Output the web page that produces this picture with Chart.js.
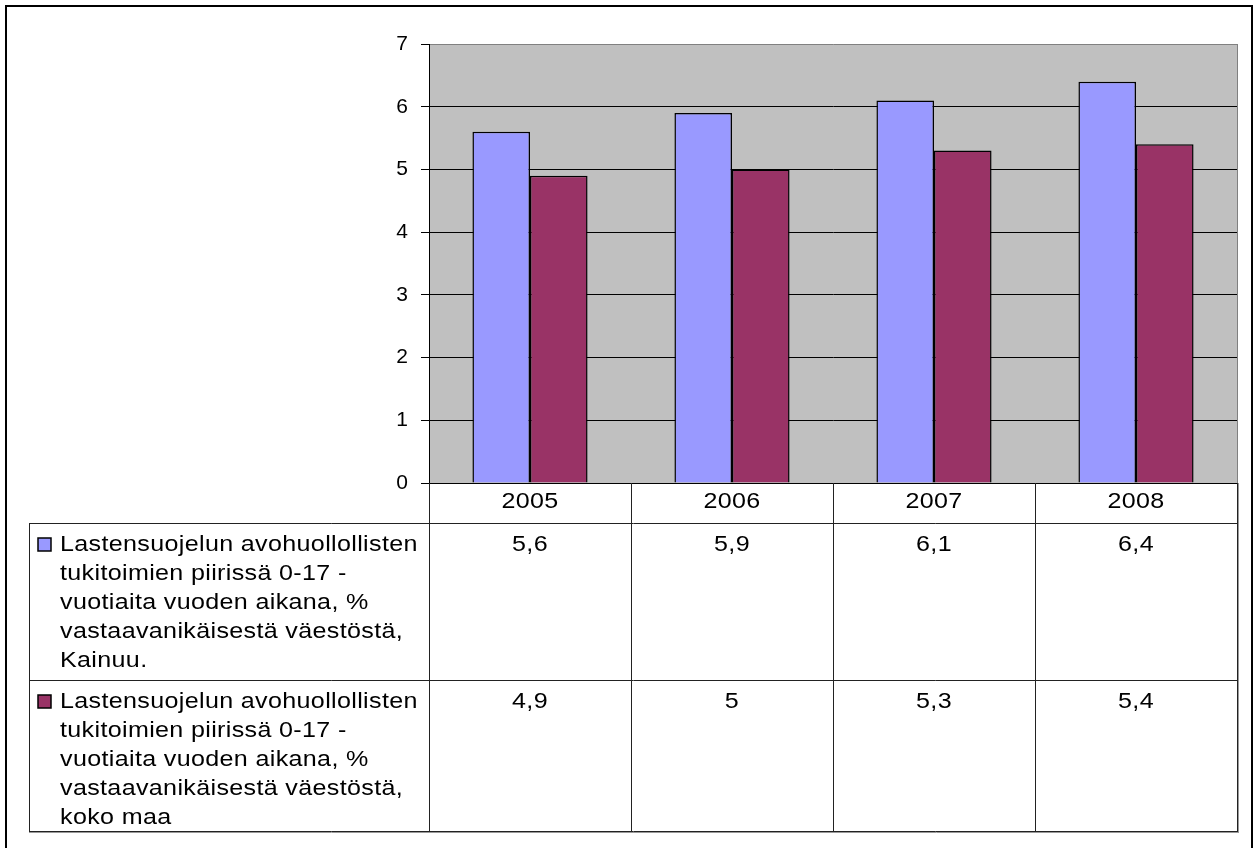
<!DOCTYPE html>
<html>
<head>
<meta charset="utf-8">
<script src="https://cdn.jsdelivr.net/npm/chart.js@4.4.1/dist/chart.umd.min.js"></script>
<style>
  html, body { margin: 0; padding: 0; background: #fff; }
  #c { display: block; }
</style>
</head>
<body>
<canvas id="c" width="1256" height="848"></canvas>
<script>
// ---- data ----
const categories = ['2005', '2006', '2007', '2008'];
const kainuuValues = [5.6, 5.9, 6.1, 6.4];
const kokoMaaValues = [4.9, 5.0, 5.3, 5.4];
const kainuuLabel = 'Lastensuojelun avohuollollisten tukitoimien piirissä 0-17 - vuotiaita vuoden aikana, % vastaavanikäisestä väestöstä, Kainuu.';
const kokoMaaLabel = 'Lastensuojelun avohuollollisten tukitoimien piirissä 0-17 - vuotiaita vuoden aikana, % vastaavanikäisestä väestöstä, koko maa';
const kainuuLabelLines = ['Lastensuojelun avohuollollisten', 'tukitoimien piirissä 0-17 -', 'vuotiaita vuoden aikana, %', 'vastaavanikäisestä väestöstä,', 'Kainuu.'];
const kokoMaaLabelLines = ['Lastensuojelun avohuollollisten', 'tukitoimien piirissä 0-17 -', 'vuotiaita vuoden aikana, %', 'vastaavanikäisestä väestöstä,', 'koko maa'];
const yMin = 0, yMax = 7, yStep = 1;

const FONT = '"Liberation Sans", Arial, sans-serif';
const fmt = v => String(v).replace('.', ',');

const bgPlugin = {
  id: 'bg',
  beforeDraw(chart) {
    const ctx = chart.ctx, a = chart.chartArea;
    ctx.save();
    ctx.fillStyle = '#ffffff';
    ctx.fillRect(0, 0, chart.width, chart.height);
    ctx.fillStyle = '#C0C0C0';
    ctx.fillRect(a.left, a.top, a.right - a.left, a.bottom - a.top);
    ctx.restore();
  }
};

const SX = 1.14;
function wideText(ctx, text, x, y, align) {
  ctx.save();
  ctx.translate(x, y);
  ctx.scale(SX, 1);
  ctx.textAlign = align;
  ctx.fillText(text, 0, 0);
  ctx.restore();
}

const tablePlugin = {
  id: 'datatable',
  afterDraw(chart) {
    const ctx = chart.ctx, a = chart.chartArea, xs = chart.scales.x;
    const step = xs.getPixelForValue(1) - xs.getPixelForValue(0);
    const centers = categories.map((c, i) => xs.getPixelForValue(i));
    const bounds = [centers[0] - step / 2].concat(centers.map(c => c + step / 2));
    const y0 = a.bottom;
    const headerBottom = 523, row1Bottom = 680, row2Bottom = 831, tableLeft = 29;

    ctx.save();
    ctx.strokeStyle = '#808080'; ctx.lineWidth = 1;
    ctx.beginPath(); ctx.moveTo(a.right + 0.5, a.top); ctx.lineTo(a.right + 0.5, a.bottom); ctx.stroke();

    ctx.strokeStyle = '#222';
    ctx.lineWidth = 1;
    ctx.beginPath();
    bounds.forEach(b => { const x = Math.round(b) + 0.5; ctx.moveTo(x, y0); ctx.lineTo(x, row2Bottom); });
    ctx.moveTo(tableLeft + 0.5, headerBottom); ctx.lineTo(tableLeft + 0.5, row2Bottom);
    [headerBottom, row1Bottom, row2Bottom].forEach(y => { ctx.moveTo(tableLeft, y + 0.5); ctx.lineTo(Math.round(a.right) + 1, y + 0.5); });
    ctx.stroke();
    ctx.strokeStyle = '#999';
    ctx.beginPath();
    ctx.moveTo(Math.round(a.right) + 1.5, y0); ctx.lineTo(Math.round(a.right) + 1.5, row2Bottom + 2);
    ctx.moveTo(tableLeft, row2Bottom + 1.5); ctx.lineTo(Math.round(a.right) + 2, row2Bottom + 1.5);
    ctx.stroke();

    ctx.fillStyle = '#000';
    ctx.font = '22px ' + FONT;
    ctx.letterSpacing = '0.3px';
    ctx.textBaseline = 'alphabetic';
    categories.forEach((c, i) => wideText(ctx, c, centers[i], 508, 'center'));

    const rows = [
      { top: headerBottom, lines: kainuuLabelLines, values: kainuuValues, color: chart.data.datasets[0].backgroundColor },
      { top: row1Bottom, lines: kokoMaaLabelLines, values: kokoMaaValues, color: chart.data.datasets[1].backgroundColor }
    ];
    rows.forEach(r => {
      const base = r.top + 28;
      ctx.fillStyle = r.color;
      ctx.fillRect(38, base - 13, 13, 13);
      ctx.strokeStyle = '#000'; ctx.lineWidth = 1.5;
      ctx.strokeRect(38, base - 13, 13, 13);
      ctx.fillStyle = '#000';
      r.lines.forEach((ln, k) => wideText(ctx, ln, 60, base + k * 29, 'left'));
      r.values.forEach((v, i) => wideText(ctx, fmt(v), centers[i], base, 'center'));
    });

    ctx.letterSpacing = '0px';
    ctx.strokeStyle = '#000'; ctx.lineWidth = 2;
    ctx.strokeRect(6, 6, 1246, 860);
    ctx.restore();
  }
};

new Chart(document.getElementById('c'), {
  type: 'bar',
  data: {
    labels: categories,
    datasets: [
      { label: kainuuLabel, data: kainuuValues, backgroundColor: '#9999FF', borderColor: '#000', borderWidth: 1.5 },
      { label: kokoMaaLabel, data: kokoMaaValues, backgroundColor: '#993366', borderColor: '#000', borderWidth: 1.5 }
    ]
  },
  options: {
    responsive: false,
    animation: false,
    devicePixelRatio: 1,
    layout: { padding: { left: 0, top: 44, right: 19, bottom: 365 } },
    datasets: { bar: { categoryPercentage: 0.57, barPercentage: 1.0 } },
    plugins: { legend: { display: false }, tooltip: { enabled: false } },
    scales: {
      x: { display: false },
      y: {
        min: yMin, max: yMax,
        afterFit(s) { s.width = 429; },
        ticks: { stepSize: yStep, color: '#000', font: { family: FONT, size: 21 }, padding: 13 },
        grid: {
          color: c => (c.tick && c.tick.value === yMax) ? '#808080' : '#000',
          tickColor: '#000', tickLength: 8, lineWidth: 1
        },
        border: { display: true, color: '#000', width: 1 }
      }
    }
  },
  plugins: [bgPlugin, tablePlugin]
});
</script>
</body>
</html>
